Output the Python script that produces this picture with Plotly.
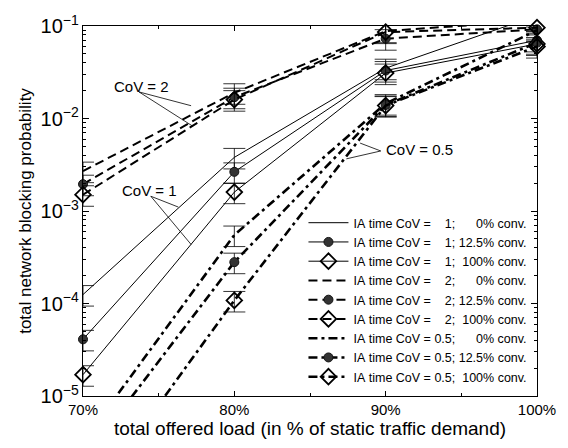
import plotly.graph_objects as go

# ---- data ----
load_pct = [70, 80, 90, 100]
tick_labels = ["70%", "80%", "90%", "100%"]

cov1_conv0 = [1.25e-4, 3.8e-3, 3.5e-2, 1.3e-1]
cov1_conv12 = [4.1e-5, 2.65e-3, 3.3e-2, 7.0e-2]
cov1_conv100 = [1.7e-5, 1.6e-3, 3.1e-2, 6.4e-2]

cov2_conv0 = [2.7e-3, 1.9e-2, 8.8e-2, 1.15e-1]
cov2_conv12 = [1.95e-3, 1.7e-2, 7.3e-2, 9.2e-2]
cov2_conv100 = [1.5e-3, 1.6e-2, 8.6e-2, 9.6e-2]

cov05_conv0 = [3.2e-6, 5.5e-4, 1.45e-2, 9.0e-2]
cov05_conv12 = [2.0e-6, 2.8e-4, 1.4e-2, 6.6e-2]
cov05_conv100 = [6.0e-7, 1.08e-4, 1.38e-2, 6.0e-2]

series_names = [
    "IA time CoV =    1;      0% conv.",
    "IA time CoV =    1; 12.5% conv.",
    "IA time CoV =    1;  100% conv.",
    "IA time CoV =    2;      0% conv.",
    "IA time CoV =    2; 12.5% conv.",
    "IA time CoV =    2;  100% conv.",
    "IA time CoV = 0.5;      0% conv.",
    "IA time CoV = 0.5; 12.5% conv.",
    "IA time CoV = 0.5;  100% conv.",
]
series_values = [cov1_conv0, cov1_conv12, cov1_conv100,
                 cov2_conv0, cov2_conv12, cov2_conv100,
                 cov05_conv0, cov05_conv12, cov05_conv100]

# ---- styles ----
line_styles = {
    "1": dict(color="black", width=1, dash="solid"),
    "2": dict(color="black", width=2, dash="9px,5px"),
    "0.5": dict(color="black", width=2.6, dash="9px,4px,3px,4px"),
}
group_keys = ["1", "1", "1", "2", "2", "2", "0.5", "0.5", "0.5"]
marker_kinds = [None, "dot", "diamond"] * 3

fig = go.Figure()
for name, vals, gk, mk in zip(series_names, series_values, group_keys, marker_kinds):
    if mk is None:
        mode = "lines"
        marker = dict()
    elif mk == "dot":
        mode = "lines+markers"
        marker = dict(symbol="circle", size=9, color="#333333",
                      line=dict(color="#111111", width=1))
    else:
        mode = "lines+markers"
        marker = dict(symbol="diamond-open", size=12, color="black",
                      line=dict(color="black", width=1.8))
    fig.add_trace(go.Scatter(
        x=load_pct, y=vals, mode=mode, name=name.replace(" ", "\u00a0"),
        line=line_styles[gk], marker=marker, cliponaxis=False,
        error_y=dict(type="percent", value=25, color="black",
                     thickness=0.8, width=11),
    ))

# ---- annotations (pointer labels) ----
W0, W1, H0, H1 = 83, 545, 20, 396
def px(x):
    return (x - W0) / (W1 - W0)
def py(y):
    return (H1 - y) / (H1 - H0)

labels = [
    ("CoV = 2", 143, 81, [((140, 87), (193, 101)), ((140, 87), (195, 122))]),
    ("CoV = 1", 151, 187, [((152, 193), (180, 204)), ((152, 193), (193, 242))]),
    ("CoV = 0.5", 425, 146, [((386, 147), (365, 139)), ((386, 147), (351, 155))]),
]
for text, tx, ty, segs in labels:
    fig.add_annotation(x=px(tx), y=py(ty), xref="paper", yref="paper",
                       xanchor="center", yanchor="middle",
                       text=text, showarrow=False,
                       font=dict(size=15, color="black", family="Liberation Sans, Arial"))
    for (a, b) in segs:
        fig.add_shape(type="line", xref="paper", yref="paper",
                      x0=px(a[0]), y0=py(a[1]), x1=px(b[0]), y1=py(b[1]),
                      line=dict(color="black", width=0.8))

fig.update_layout(
    width=568, height=448,
    margin=dict(l=83, r=23, t=20, b=52),
    paper_bgcolor="white", plot_bgcolor="white",
    font=dict(family="Liberation Sans, Arial", color="black", size=14),
    showlegend=True,
    legend=dict(x=0.99, y=py(392), xanchor="right", yanchor="bottom",
                bgcolor="rgba(255,255,255,0)", borderwidth=0,
                font=dict(size=12.5, family="Liberation Sans, Arial"),
                tracegroupgap=0, itemwidth=40),
)
fig.update_xaxes(
    range=[70, 100], tickvals=load_pct, ticktext=tick_labels,
    showline=True, linecolor="black", linewidth=1, mirror="ticks",
    ticks="inside", ticklen=5, tickcolor="black", showgrid=False, zeroline=False,
    minor=dict(ticks="inside", ticklen=3, dtick=5, tick0=70, tickcolor="black"),
    tickfont=dict(size=15),
    title=dict(text="total offered load (in % of static traffic demand)",
               font=dict(size=19), standoff=2),
)
fig.update_yaxes(
    type="log", range=[-5, -1], dtick=1, exponentformat="power", showexponent="all",
    showline=True, linecolor="black", linewidth=1, mirror="ticks",
    ticks="inside", ticklen=6, tickcolor="black", showgrid=False, zeroline=False,
    minor=dict(ticks="inside", ticklen=3, tickcolor="black", showgrid=False),
    tickfont=dict(size=16),
    title=dict(text="total network blocking probability", font=dict(size=17), standoff=4),
)

fig.write_html("out.html")
